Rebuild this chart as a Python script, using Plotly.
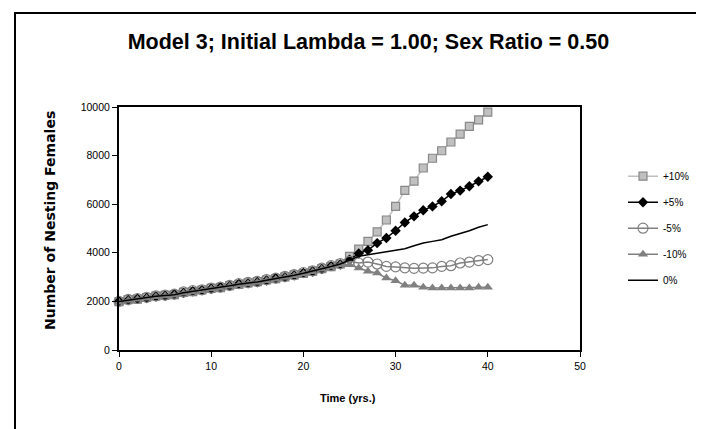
import plotly.graph_objects as go

# time axis (years)
years = list(range(41))

# number of nesting females per scenario
plus10 = [1990, 2070, 2090, 2160, 2220, 2250, 2280, 2370, 2400, 2470, 2540, 2570, 2650, 2700, 2760,
          2810, 2880, 2940, 3010, 3090, 3150, 3250, 3350, 3430, 3540,
          3850, 4150, 4470, 4860, 5350, 5910, 6570, 6950, 7490, 7890, 8200, 8560, 8880, 9200, 9470, 9790]
plus5 = [2010, 2050, 2110, 2140, 2200, 2230, 2290, 2350, 2420, 2460, 2520, 2580, 2630, 2720, 2740,
         2790, 2860, 2950, 2990, 3070, 3170, 3230, 3330, 3450, 3520,
         3720, 3970, 4110, 4400, 4610, 4910, 5250, 5500, 5750, 5910, 6120, 6420, 6560, 6740, 6940, 7130]
minus5 = [2000, 2080, 2120, 2170, 2230, 2260, 2300, 2390, 2440, 2480, 2550, 2590, 2660, 2730, 2780,
          2820, 2900, 2960, 3030, 3100, 3190, 3260, 3370, 3470, 3560,
          3650, 3580, 3620, 3540, 3440, 3420, 3380, 3360, 3370, 3380, 3440, 3470, 3580, 3620, 3680, 3720]
minus10 = [1970, 2040, 2090, 2130, 2190, 2220, 2250, 2340, 2390, 2440, 2510, 2540, 2620, 2690, 2730,
           2780, 2850, 2910, 2980, 3060, 3140, 3220, 3320, 3420, 3510,
           3510, 3370, 3240, 3170, 2960, 2850, 2660, 2660, 2580, 2550, 2550, 2550, 2550, 2550, 2580, 2580]
zero = [2000, 2060, 2100, 2150, 2210, 2240, 2270, 2360, 2410, 2460, 2530, 2560, 2640, 2710, 2750,
        2800, 2870, 2930, 3000, 3080, 3160, 3240, 3340, 3440, 3540,
        3700, 3860, 3920, 3980, 4030, 4090, 4170, 4290, 4400, 4470, 4540, 4680, 4790, 4910, 5050, 5160]

FONT = "Liberation Sans, Arial, sans-serif"

fig = go.Figure()

fig.add_trace(go.Scatter(
    x=years, y=plus10, name="+10%", mode="lines+markers", legendgroup="a",
    line=dict(color="#c0c0c0", width=1.5),
    marker=dict(symbol="square", size=8, color="#c0c0c0", line=dict(color="#888888", width=1.2)),
    cliponaxis=False))
fig.add_trace(go.Scatter(
    x=years, y=plus5, name="+5%", mode="lines+markers", legendgroup="b",
    line=dict(color="black", width=1.5),
    marker=dict(symbol="diamond", size=8, color="black"),
    cliponaxis=False))
fig.add_trace(go.Scatter(
    x=years, y=minus5, name="-5%", mode="lines+markers", legendgroup="c",
    line=dict(color="#808080", width=1.5),
    marker=dict(symbol="circle-open", size=10, color="#808080", line=dict(width=1.2)),
    cliponaxis=False))
fig.add_trace(go.Scatter(
    x=years, y=minus10, name="-10%", mode="lines+markers", legendgroup="d",
    line=dict(color="#808080", width=1.5),
    marker=dict(symbol="triangle-up", size=9, color="#808080"),
    cliponaxis=False))
fig.add_trace(go.Scatter(
    x=years, y=zero, name="0%", mode="lines", legendgroup="e",
    line=dict(color="black", width=1.5),
    cliponaxis=False))

axis_style = dict(
    showgrid=False, zeroline=False,
    showline=True, mirror=True, linecolor="black", linewidth=2,
    ticks="outside", ticklen=5, tickwidth=1, tickcolor="black",
    tickfont=dict(family=FONT, size=10.5, color="black"),
)

fig.update_layout(
    width=704, height=429,
    margin=dict(l=111, r=132, t=99, b=87, autoexpand=False),
    paper_bgcolor="white", plot_bgcolor="white",
    title=dict(text="<b>Model 3; Initial Lambda = 1.00; Sex Ratio = 0.50</b>",
               x=0.512, xanchor="center", y=1 - 33 / 429, yanchor="middle",
               font=dict(family=FONT, size=21.5, color="black")),
    xaxis=dict(range=[0, 50], dtick=10, **axis_style),
    yaxis=dict(range=[0, 10000], dtick=2000, tickformat="d", **axis_style),
    legend=dict(x=(615 - 111) / 461, y=0.775, xanchor="left", yanchor="top",
                itemwidth=30, tracegroupgap=7,
                font=dict(family=FONT, size=10, color="black"),
                bgcolor="rgba(0,0,0,0)"),
    showlegend=True,
)

# axis titles as annotations so they sit where the original has them
fig.add_annotation(text="<b>Time (yrs.)</b>", xref="paper", yref="paper",
                   x=0.496, y=(342 - 390) / 243, xanchor="center", yanchor="middle",
                   showarrow=False, font=dict(family=FONT, size=11, color="black"))
fig.add_annotation(text="<b>Number of Nesting Females</b>", xref="paper", yref="paper",
                   x=(42 - 111) / 461, y=0.531, xanchor="center", yanchor="middle",
                   textangle=-90, showarrow=False,
                   font=dict(family="DejaVu Sans", size=14, color="black"))

# chart area border (left and top edges visible in the original)
fig.add_shape(type="rect", xref="paper", yref="paper",
              x0=(7 - 111) / 461, x1=1.6, y0=-1.0, y1=(342 - 5) / 243,
              line=dict(color="black", width=2), layer="below")

fig.write_html("out.html")
